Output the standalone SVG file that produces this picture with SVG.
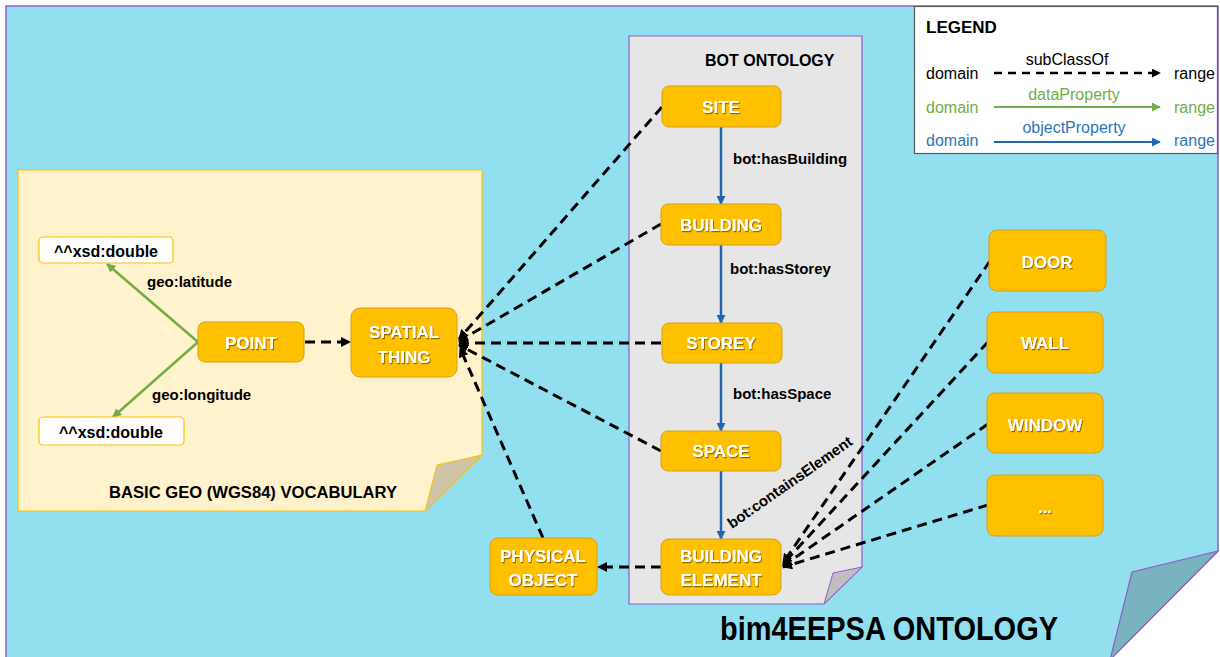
<svg xmlns="http://www.w3.org/2000/svg" width="1220" height="657" viewBox="0 0 1220 657">
  <defs>
    <style>
      text { font-family: "Liberation Sans", Arial, sans-serif; }
      .node rect { fill: #FFC000; stroke: #D4A017; stroke-width: 1; }
      .node text { fill: #FFFFFF; font-weight: bold; font-size: 17px; text-anchor: middle; filter: url(#shadow); }
      .lit rect { fill: #FFFFFF; stroke: #FFC000; stroke-width: 1.2; }
      .lit text { fill: #000000; font-weight: bold; font-size: 16px; text-anchor: middle; }
      .lbl { fill: #000000; font-weight: bold; font-size: 15px; }
      .sub { fill: none; stroke: #000000; stroke-width: 3; stroke-dasharray: 10 6; marker-end: url(#arrBlack); }
      .obj { fill: none; stroke: #1F67B1; stroke-width: 2.5; marker-end: url(#arrBlue); }
      .dat { fill: none; stroke: #70AD47; stroke-width: 2.5; marker-end: url(#arrGreen); }
      .leg { font-size: 16px; }
    </style>
    <filter id="shadow" x="-10%" y="-10%" width="130%" height="140%">
      <feDropShadow dx="1" dy="1.2" stdDeviation="0.6" flood-color="#000000" flood-opacity="0.45"/>
    </filter>
    <marker id="arrBlack" viewBox="0 0 10 10" refX="9" refY="5" markerWidth="10" markerHeight="10" markerUnits="userSpaceOnUse" orient="auto">
      <path d="M0,0 L10,5 L0,10 z" fill="#000000"/>
    </marker>
    <marker id="arrBlue" viewBox="0 0 10 10" refX="9" refY="5" markerWidth="9" markerHeight="9" markerUnits="userSpaceOnUse" orient="auto">
      <path d="M0,0 L10,5 L0,10 z" fill="#1F67B1"/>
    </marker>
    <marker id="arrGreen" viewBox="0 0 10 10" refX="9" refY="5" markerWidth="9" markerHeight="9" markerUnits="userSpaceOnUse" orient="auto">
      <path d="M0,0 L10,5 L0,10 z" fill="#70AD47"/>
    </marker>
    <marker id="arrSmall" viewBox="0 0 10 10" refX="9" refY="5" markerWidth="9" markerHeight="9" markerUnits="userSpaceOnUse" orient="auto">
      <path d="M0,0 L10,5 L0,10 z" fill="#000000"/>
    </marker>
  </defs>

  <!-- white canvas -->
  <rect x="0" y="0" width="1220" height="657" fill="#FFFFFF"/>

  <!-- outer page with folded corner (bottom edge runs past the canvas) -->
  <g id="page">
    <path d="M6,6 L1218,6 L1218,551 L1108,661 L6,661 Z" fill="#91DFEF" stroke="#8E5EC8" stroke-width="1.5"/>
    <path d="M1218,551 L1132,572 L1110,660 Z" fill="#78B3BF" stroke="#8E5EC8" stroke-width="1.2"/>
    <text x="720" y="640" font-size="33" font-weight="bold" fill="#000000" textLength="338" lengthAdjust="spacingAndGlyphs">bim4EEPSA ONTOLOGY</text>
  </g>

  <!-- legend -->
  <g id="legend">
    <rect x="914.5" y="6.5" width="303" height="147" fill="#FFFFFF" stroke="#595959" stroke-width="1.2"/>
    <text x="926" y="33" font-size="17" font-weight="bold" fill="#000000">LEGEND</text>
    <text class="leg" x="1067" y="65" text-anchor="middle" fill="#000000">subClassOf</text>
    <text class="leg" x="926" y="79" fill="#000000">domain</text>
    <text class="leg" x="1174" y="79" fill="#000000">range</text>
    <line x1="994" y1="73" x2="1160" y2="73" stroke="#000000" stroke-width="2.5" stroke-dasharray="8 6" marker-end="url(#arrSmall)"/>
    <text class="leg" x="1074" y="100" text-anchor="middle" fill="#70AD47">dataProperty</text>
    <text class="leg" x="926" y="113" fill="#70AD47">domain</text>
    <text class="leg" x="1174" y="113" fill="#70AD47">range</text>
    <line x1="994" y1="107" x2="1160" y2="107" stroke="#70AD47" stroke-width="2" marker-end="url(#arrGreen)"/>
    <text class="leg" x="1074" y="133" text-anchor="middle" fill="#2E75B6">objectProperty</text>
    <text class="leg" x="926" y="146" fill="#2E75B6">domain</text>
    <text class="leg" x="1174" y="146" fill="#2E75B6">range</text>
    <line x1="994" y1="142" x2="1160" y2="142" stroke="#1F67B1" stroke-width="2" marker-end="url(#arrBlue)"/>
  </g>

  <!-- Basic Geo vocabulary sheet -->
  <g id="geo-vocabulary">
    <path d="M18,170 L482,170 L482,455 L425,511 L18,511 Z" fill="#FFF2CC" stroke="#FFC000" stroke-width="1.2"/>
    <path d="M482,455 L437,465 L425,511 Z" fill="#CFC5A6" stroke="#FFC000" stroke-width="1"/>
    <text x="109" y="498" font-size="16" font-weight="bold" fill="#000000" textLength="288" lengthAdjust="spacingAndGlyphs">BASIC GEO (WGS84) VOCABULARY</text>
  </g>

  <!-- BOT ontology sheet -->
  <g id="bot-ontology">
    <path d="M629,36 L862,36 L862,567 L824,604 L629,604 Z" fill="#E7E6E6" stroke="#8E5EC8" stroke-width="1.2"/>
    <path d="M862,567 L833,573 L824,604 Z" fill="#BFBFBF" stroke="#8E5EC8" stroke-width="1"/>
    <text x="705" y="66" font-size="16" font-weight="bold" fill="#000000">BOT ONTOLOGY</text>
  </g>

  <!-- connectors -->
  <g id="connectors">
    <!-- data properties -->
    <line class="dat" x1="198" y1="342" x2="107" y2="264"/>
    <line class="dat" x1="198" y1="342" x2="113" y2="417"/>
    <!-- object properties -->
    <line class="obj" x1="721" y1="127" x2="721" y2="204"/>
    <line class="obj" x1="721" y1="245" x2="721" y2="323"/>
    <line class="obj" x1="721" y1="363" x2="721" y2="431"/>
    <line class="obj" x1="721" y1="471" x2="721" y2="539"/>
    <!-- subClassOf -->
    <line class="sub" x1="305" y1="342" x2="350" y2="342"/>
    <line class="sub" x1="662" y1="107" x2="459" y2="339"/>
    <line class="sub" x1="661" y1="224" x2="459" y2="341"/>
    <line class="sub" x1="661" y1="343" x2="459" y2="343"/>
    <line class="sub" x1="661" y1="451" x2="459" y2="345"/>
    <line class="sub" x1="543" y1="538" x2="460" y2="348"/>
    <line class="sub" x1="661" y1="567" x2="598" y2="567"/>
    <line class="sub" x1="990" y1="261" x2="783" y2="563"/>
    <line class="sub" x1="988" y1="342" x2="783" y2="564"/>
    <line class="sub" x1="988" y1="424" x2="783" y2="566"/>
    <line class="sub" x1="988" y1="505" x2="783" y2="567"/>
    <!-- property labels -->
    <text class="lbl" x="147" y="287">geo:latitude</text>
    <text class="lbl" x="152" y="400">geo:longitude</text>
    <text class="lbl" x="733" y="164">bot:hasBuilding</text>
    <text class="lbl" x="730" y="274">bot:hasStorey</text>
    <text class="lbl" x="733" y="399">bot:hasSpace</text>
    <text class="lbl" x="732" y="529" transform="rotate(-35 732 529)">bot:containsElement</text>
  </g>

  <!-- literal nodes -->
  <g id="lat-literal" class="lit">
    <rect x="39" y="237" width="134" height="26" rx="4"/>
    <text x="106" y="257">^^xsd:double</text>
  </g>
  <g id="long-literal" class="lit">
    <rect x="39" y="417" width="145" height="28" rx="4"/>
    <text x="111" y="438">^^xsd:double</text>
  </g>

  <!-- class nodes -->
  <g id="point" class="node">
    <rect x="198" y="322" width="106" height="40" rx="7"/>
    <text x="251" y="349">POINT</text>
  </g>
  <g id="spatial-thing" class="node">
    <rect x="351" y="308" width="106" height="69" rx="9"/>
    <text x="404" y="338">SPATIAL</text>
    <text x="404" y="363">THING</text>
  </g>
  <g id="site" class="node">
    <rect x="662" y="86" width="119" height="41" rx="7"/>
    <text x="721" y="113">SITE</text>
  </g>
  <g id="building" class="node">
    <rect x="661" y="204" width="120" height="41" rx="7"/>
    <text x="721" y="231">BUILDING</text>
  </g>
  <g id="storey" class="node">
    <rect x="662" y="323" width="120" height="40" rx="7"/>
    <text x="721" y="349">STOREY</text>
  </g>
  <g id="space" class="node">
    <rect x="661" y="431" width="120" height="40" rx="7"/>
    <text x="721" y="457">SPACE</text>
  </g>
  <g id="building-element" class="node">
    <rect x="661" y="539" width="120" height="56" rx="8"/>
    <text x="721" y="562">BUILDING</text>
    <text x="721" y="586">ELEMENT</text>
  </g>
  <g id="physical-object" class="node">
    <rect x="490" y="538" width="107" height="57" rx="8"/>
    <text x="543" y="562">PHYSICAL</text>
    <text x="543" y="586">OBJECT</text>
  </g>
  <g id="door" class="node">
    <rect x="989" y="230" width="117" height="61" rx="8"/>
    <text x="1047" y="268">DOOR</text>
  </g>
  <g id="wall" class="node">
    <rect x="987" y="312" width="116" height="61" rx="8"/>
    <text x="1045" y="349">WALL</text>
  </g>
  <g id="window" class="node">
    <rect x="987" y="393" width="116" height="60" rx="8"/>
    <text x="1045" y="431">WINDOW</text>
  </g>
  <g id="more" class="node">
    <rect x="987" y="475" width="116" height="61" rx="8"/>
    <text x="1045" y="513">...</text>
  </g>
</svg>
